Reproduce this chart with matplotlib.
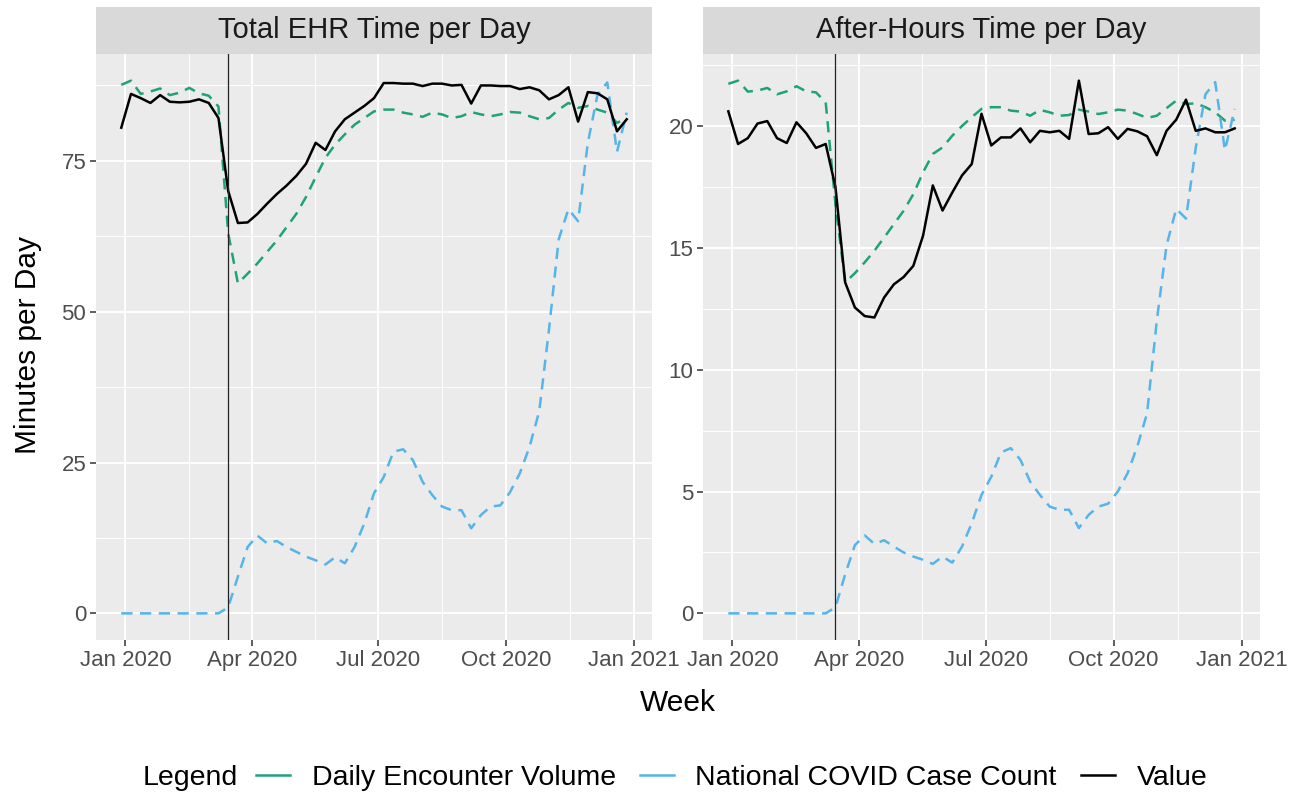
import matplotlib
matplotlib.use('Agg')
import matplotlib.pyplot as plt
import matplotlib.dates as mdates
from matplotlib.lines import Line2D
import numpy as np
import pandas as pd

plt.rcParams['font.family'] = ['Liberation Sans', 'DejaVu Sans']

# weekly series, one point per week (Sunday start)
weeks = pd.date_range('2019-12-29', periods=53, freq='7D')
intervention = pd.Timestamp('2020-03-15')

# Total EHR time per day
total_value = [80.5, 86.1, 85.4, 84.6, 85.9, 84.8, 84.7, 84.8, 85.2, 84.6,
               82.1, 70.0, 64.7, 64.8, 66.2, 67.9, 69.5, 70.9, 72.5, 74.5,
               78.0, 76.8, 79.9, 81.9, 83.0, 84.1, 85.4, 87.9, 87.9, 87.8,
               87.8, 87.4, 87.8, 87.8, 87.5, 87.6, 84.5, 87.5, 87.5, 87.4,
               87.4, 86.9, 87.2, 86.7, 85.2, 85.9, 87.2, 81.5, 86.4, 86.2,
               85.2, 79.9, 81.9]
total_encounters = [87.6, 88.3, 86.1, 86.5, 87.0, 85.9, 86.3, 87.1, 86.2, 85.8,
                    84.0, 63.0, 54.7, 56.3, 58.0, 59.9, 61.8, 64.0, 66.2, 69.0,
                    72.3, 75.5, 77.7, 79.4, 81.0, 82.1, 83.2, 83.5, 83.5, 83.0,
                    82.7, 82.3, 83.0, 82.7, 82.1, 82.4, 83.1, 82.7, 82.4, 82.7,
                    83.1, 83.0, 82.4, 81.9, 82.1, 83.5, 84.6, 83.8, 84.1, 83.5,
                    83.0, 81.3, 82.1]
total_covid = [0, 0, 0, 0, 0, 0, 0, 0, 0, 0,
               0, 1.0, 6.1, 11.0, 12.9, 11.6, 12.0, 11.0, 10.2, 9.4,
               8.8, 8.1, 9.3, 8.3, 11.0, 14.9, 19.9, 22.6, 26.8, 27.2,
               25.4, 21.8, 19.6, 17.7, 17.1, 17.1, 14.1, 16.3, 17.7, 17.9,
               20.1, 23.2, 27.6, 33.5, 47.0, 62.0, 67.0, 65.0, 78.0, 86.0,
               88.0, 76.5, 83.0]

# After-hours time per day
after_value = [20.6, 19.26, 19.5, 20.1, 20.2, 19.5, 19.3, 20.15, 19.7, 19.1,
               19.26, 17.5, 13.58, 12.55, 12.2, 12.14, 12.96, 13.5, 13.8, 14.26,
               15.5, 17.56, 16.53, 17.27, 17.97, 18.44, 20.5, 19.2, 19.53, 19.53,
               19.9, 19.33, 19.8, 19.74, 19.8, 19.47, 21.86, 19.67, 19.7, 19.95,
               19.47, 19.88, 19.78, 19.58, 18.8, 19.8, 20.26, 21.08, 19.8, 19.9,
               19.74, 19.74, 19.9]
after_encounters = [21.73, 21.86, 21.41, 21.45, 21.56, 21.3, 21.42, 21.63, 21.42, 21.38,
                    20.97, 16.8, 13.58, 13.96, 14.4, 14.88, 15.42, 15.97, 16.52, 17.2,
                    18.1, 18.85, 19.12, 19.6, 20.0, 20.36, 20.7, 20.77, 20.77, 20.63,
                    20.59, 20.42, 20.66, 20.56, 20.42, 20.45, 20.67, 20.59, 20.49, 20.56,
                    20.67, 20.63, 20.49, 20.33, 20.42, 20.73, 21.04, 20.9, 20.93, 20.77,
                    20.56, 20.22, 20.25]
after_covid = [0, 0, 0, 0, 0, 0, 0, 0, 0, 0,
               0, 0.25, 1.6, 2.8, 3.2, 2.85, 3.0, 2.74, 2.5, 2.33,
               2.2, 2.03, 2.33, 2.08, 2.74, 3.7, 4.86, 5.6, 6.6, 6.78,
               6.3, 5.4, 4.86, 4.38, 4.25, 4.25, 3.5, 4.04, 4.38, 4.5,
               5.0, 5.75, 6.85, 8.2, 12.0, 15.1, 16.6, 16.2, 19.1, 21.3,
               21.8, 19.0, 20.7]

panel_titles = ['Total EHR Time per Day', 'After-Hours Time per Day']
series_labels = ['Daily Encounter Volume', 'National COVID Case Count', 'Value']
series_colors = ['#1FA27A', '#56B4E9', 'black']
series_dashed = [True, True, False]
yticks_total = [0, 25, 50, 75]
yticks_after = [0, 5, 10, 15, 20]
xtick_dates = pd.to_datetime(['2020-01-01', '2020-04-01', '2020-07-01', '2020-10-01', '2021-01-01'])
xtick_labels = ['Jan 2020', 'Apr 2020', 'Jul 2020', 'Oct 2020', 'Jan 2021']

W, H = 1302, 800
fig = plt.figure(figsize=(W / 100, H / 100), dpi=100)


def frac(x0, y0, x1, y1):
    # pixel box (top-left origin) -> figure fraction rect
    return [x0 / W, 1 - y1 / H, (x1 - x0) / W, (y1 - y0) / H]


def draw_panel(px, title, encounters, covid, value, yticks):
    x0, x1 = px
    ax = fig.add_axes(frac(x0, 54, x1, 640))
    ax.set_facecolor('#EBEBEB')
    x = mdates.date2num(weeks)
    for vals, col, dashed in zip([encounters, covid, value], series_colors, series_dashed):
        ls = (0, (4.5, 3)) if dashed else '-'
        ax.plot(x, vals, color=col, lw=1.8, linestyle=ls, zorder=3)
    ax.axvline(mdates.date2num(intervention), color='#222222', lw=0.9, zorder=4)

    # ggplot style 5% expansion
    pad = 0.05 * (x.max() - x.min())
    ax.set_xlim(x.min() - pad, x.max() + pad)
    allv = np.concatenate([encounters, covid, value])
    ypad = 0.05 * (allv.max() - allv.min())
    ax.set_ylim(allv.min() - ypad, allv.max() + ypad)

    xt = mdates.date2num(xtick_dates)
    ax.set_xticks(xt)
    ax.set_xticklabels(xtick_labels)
    ax.set_xticks((xt[:-1] + xt[1:]) / 2, minor=True)
    ax.set_yticks(yticks)
    step = yticks[1] - yticks[0]
    ax.set_yticks(np.arange(yticks[0] + step / 2, allv.max() + ypad, step), minor=True)

    ax.grid(which='major', color='white', lw=1.3)
    ax.grid(which='minor', color='white', lw=0.65)
    ax.set_axisbelow(True)
    for s in ax.spines.values():
        s.set_visible(False)
    ax.tick_params(which='major', length=4, width=1.1, color='#333333',
                   labelcolor='#4D4D4D', labelsize=16, pad=3)
    ax.tick_params(which='minor', length=0)

    strip = fig.add_axes(frac(x0, 7, x1, 54))
    strip.set_facecolor('#D9D9D9')
    strip.set_xticks([])
    strip.set_yticks([])
    for s in strip.spines.values():
        s.set_visible(False)
    strip.text(0.5, 0.5, title, ha='center', va='center', fontsize=21,
               color='#1A1A1A', transform=strip.transAxes)
    return ax


draw_panel((96, 652), panel_titles[0], total_encounters, total_covid, total_value, yticks_total)
draw_panel((703, 1260), panel_titles[1], after_encounters, after_covid, after_value, yticks_after)

fig.text(28 / W, 1 - 345 / H, 'Minutes per Day', rotation=90, ha='center', va='center', fontsize=21.5)
fig.text(678 / W, 1 - 703 / H, 'Week', ha='center', va='center', fontsize=21.5)

# legend at bottom
fig.text(143 / W, 1 - 778 / H, 'Legend', ha='left', va='center', fontsize=20.5)
handles = [Line2D([0], [0], color=c, lw=1.8) for c in series_colors]
fig.legend(handles, series_labels, loc='center left', bbox_to_anchor=(256 / W, 1 - 778 / H),
           ncol=3, frameon=False, fontsize=20.5, handlelength=1.2,
           handletextpad=0.75, columnspacing=0.85, borderaxespad=0, borderpad=0)

fig.savefig('out.png', dpi=100)
